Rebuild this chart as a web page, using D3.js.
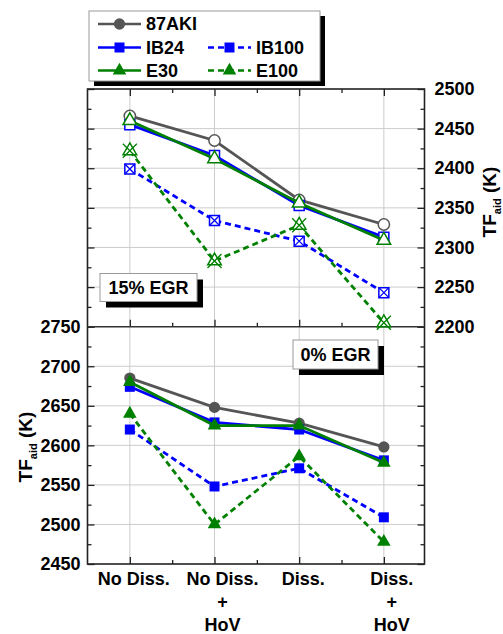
<!DOCTYPE html>
<meta charset="utf-8">
<script src="https://d3js.org/d3.v7.min.js"></script>
<style>
  body { margin: 0; background: #fff; }
  text { font-family: "Liberation Sans", Arial, sans-serif; font-weight: bold; }
</style>
<div id="chart"></div>
<script>

// x categories (multi-line tick labels)
var categories = [["No Diss."], ["No Diss.", "+", "HoV"], ["Diss."], ["Diss.", "+", "HoV"]]
var xPos = [1, 2, 3, 4]

// 15% EGR panel (top, right axis)
var aki87_15 = [2466, 2435, 2360, 2329]
var ib24_15  = [2455, 2416, 2353, 2313]
var e30_15   = [2460, 2412, 2356, 2309]
var ib100_15 = [2399, 2334, 2308, 2243]
var e100_15  = [2422, 2283, 2328, 2205]

// 0% EGR panel (bottom, left axis)
var aki87_0 = [2685, 2648, 2628, 2598]
var ib24_0  = [2674, 2629, 2620, 2581]
var e30_0   = [2680, 2625, 2625, 2578]
var ib100_0 = [2620, 2548, 2571, 2509]
var e100_0  = [2640, 2500, 2586, 2478]

var topTicks = [2200, 2250, 2300, 2350, 2400, 2450, 2500]
var botTicks = [2450, 2500, 2550, 2600, 2650, 2700, 2750]

var width = 503, height = 634
var left = 87.5, right = 424.5
var top1 = 89, mid = 326.7, bot = 564

var GRAY = "#555555", BLUE = "#0000ff", GREEN = "#008000"

var series = [
  {name: "87AKI", color: GRAY,  dash: null,  shape: "circle",   top: aki87_15, bot: aki87_0},
  {name: "IB24",  color: BLUE,  dash: null,  shape: "square",   top: ib24_15,  bot: ib24_0},
  {name: "E30",   color: GREEN, dash: null,  shape: "triangle", top: e30_15,   bot: e30_0},
  {name: "IB100", color: BLUE,  dash: "6,4", shape: "square",   top: ib100_15, bot: ib100_0, cross: true},
  {name: "E100",  color: GREEN, dash: "6,4", shape: "triangle", top: e100_15,  bot: e100_0,  cross: true}
]

var svg = d3.select("#chart").append("svg")
  .attr("width", width)
  .attr("height", height)

var x = d3.scaleLinear().domain([0.5, 4.48]).range([left, right])
var yTop = d3.scaleLinear().domain([2200, 2500]).range([mid, top1])
var yBot = d3.scaleLinear().domain([2450, 2750]).range([bot, mid])

function minors(ticks) {
  var m = []
  for (var i = 0; i < ticks.length - 1; i++) m.push((ticks[i] + ticks[i + 1]) / 2)
  return m
}

// grid lines
function grid(y, ticks, y0, y1) {
  var g = svg.append("g")
  g.selectAll("line.v").data(xPos).enter().append("line")
    .attr("x1", function(d){ return x(d) }).attr("x2", function(d){ return x(d) })
    .attr("y1", y0).attr("y2", y1)
    .attr("stroke", "#cccccc").attr("stroke-width", 1)
  g.selectAll("line.h").data(ticks.slice(1, -1)).enter().append("line")
    .attr("x1", left).attr("x2", right)
    .attr("y1", function(d){ return y(d) }).attr("y2", function(d){ return y(d) })
    .attr("stroke", "#cccccc").attr("stroke-width", 1)
}
grid(yTop, topTicks, top1, mid)
grid(yBot, botTicks, mid, bot)

// axes (inward ticks)
function axis(gen, tx, ty, vals, size, labels, pad) {
  var g = svg.append("g").attr("transform", "translate(" + tx + "," + ty + ")")
    .call(gen.tickValues(vals).tickSize(size).tickPadding(pad || 3)
      .tickFormat(labels ? d3.format("d") : ""))
  g.select(".domain").remove()
  g.selectAll(".tick line").attr("stroke", "#222").attr("stroke-width", 1.3)
  g.selectAll("text").attr("font-size", 18).attr("fill", "#000")
  return g
}
// y axes
axis(d3.axisLeft(yBot), left, 0, botTicks, -7, true, 7)
axis(d3.axisLeft(yBot), left, 0, minors(botTicks), -4, false)
axis(d3.axisRight(yBot), right, 0, botTicks, -7, false)
axis(d3.axisRight(yBot), right, 0, minors(botTicks), -4, false)
axis(d3.axisLeft(yTop), left, 0, topTicks, -7, false)
axis(d3.axisLeft(yTop), left, 0, minors(topTicks), -4, false)
axis(d3.axisRight(yTop), right, 0, topTicks, -7, true, 10)
axis(d3.axisRight(yTop), right, 0, minors(topTicks), -4, false)
// x axes
var xMinor = [1.5, 2.5, 3.5]
axis(d3.axisTop(x), 0, top1, xPos, -7, false)
axis(d3.axisTop(x), 0, top1, xMinor, -4, false)
axis(d3.axisBottom(x), 0, mid, xPos, -7, false)
axis(d3.axisBottom(x), 0, mid, xMinor, -4, false)
axis(d3.axisBottom(x), 0, bot, xPos, -7, false)
axis(d3.axisBottom(x), 0, bot, xMinor, -4, false)

// frames
svg.append("rect").attr("x", left).attr("y", top1).attr("width", right - left).attr("height", bot - top1)
  .attr("fill", "none").attr("stroke", "#222").attr("stroke-width", 1.6)
svg.append("line").attr("x1", left).attr("x2", right).attr("y1", mid).attr("y2", mid)
  .attr("stroke", "#333").attr("stroke-width", 1.6)

// category labels
var xl = svg.append("g").selectAll("text").data(categories).enter().append("text")
  .attr("x", function(d, i){ return x(xPos[i]) + (d.length > 1 ? 8 : 4) })
  .attr("y", 585)
  .attr("text-anchor", "middle")
  .attr("font-size", 18)
xl.selectAll("tspan").data(function(d){ return d }).enter().append("tspan")
  .attr("x", function(){ return d3.select(this.parentNode).attr("x") })
  .attr("dy", function(d, i){ return i ? 23 : 0 })
  .text(function(d){ return d })

// markers
function marker(g, s, cx, cy, filled) {
  var sym = s.shape == "circle" ? d3.symbolCircle : s.shape == "square" ? d3.symbolSquare : d3.symbolTriangle
  var size = s.shape == "circle" ? 100 : s.shape == "square" ? 100 : 80
  var fill = filled ? s.color : "#fff"
  g.append("path")
    .attr("d", d3.symbol().type(sym).size(size))
    .attr("transform", "translate(" + cx + "," + cy + ")")
    .attr("fill", fill)
    .attr("stroke", filled ? "none" : s.color)
    .attr("stroke-width", 1.5)
  if (s.cross && !filled) {
    var r = s.shape == "square" ? 5 : 7
    g.append("path")
      .attr("d", "M" + (cx - r) + "," + (cy - r) + "L" + (cx + r) + "," + (cy + r) +
                 "M" + (cx - r) + "," + (cy + r) + "L" + (cx + r) + "," + (cy - r))
      .attr("stroke", s.color).attr("stroke-width", 1.3).attr("fill", "none")
  }
}

function panel(y, key, filled) {
  series.forEach(function(s) {
    var g = svg.append("g")
    var line = d3.line()
      .x(function(d, i){ return x(xPos[i]) })
      .y(function(d){ return y(d) })
    g.append("path").datum(s[key])
      .attr("d", line)
      .attr("fill", "none")
      .attr("stroke", s.color)
      .attr("stroke-width", 2.8)
      .attr("stroke-dasharray", s.dash)
    s[key].forEach(function(v, i){ marker(g, s, x(xPos[i]), y(v), filled) })
  })
}
panel(yTop, "top", false)
panel(yBot, "bot", true)

// labelled boxes with shadow
function box(bx, by, bw, bh, off, label, fs) {
  svg.append("rect").attr("x", bx + off).attr("y", by + off).attr("width", bw).attr("height", bh).attr("fill", "#000")
  svg.append("rect").attr("x", bx).attr("y", by).attr("width", bw).attr("height", bh)
    .attr("fill", "#fff").attr("stroke", "#999").attr("stroke-width", 1)
  if (label) svg.append("text").attr("x", bx + bw / 2).attr("y", by + bh / 2).attr("dy", "0.36em")
    .attr("text-anchor", "middle").attr("font-size", fs).text(label)
}
box(100, 273.5, 97, 28, 6, "15% EGR", 18)
box(293, 340, 85, 29, 6, "0% EGR", 18)

// legend
box(89, 11, 231, 70, 5)
var legendPos = [[98, 24], [98, 47.5], [98, 70.5], [208, 47.5], [208, 70.5]]
series.forEach(function(s, i) {
  var p = legendPos[i]
  var g = svg.append("g")
  g.append("line").attr("x1", p[0]).attr("x2", p[0] + 43).attr("y1", p[1]).attr("y2", p[1])
    .attr("stroke", s.color).attr("stroke-width", 2.6).attr("stroke-dasharray", s.dash)
  marker(g, s, p[0] + 21.5, p[1], true)
  g.append("text").attr("x", p[0] + 48).attr("y", p[1]).attr("dy", "0.36em")
    .attr("font-size", 18).text(s.name)
})

// axis titles
function ytitle(tx, ty) {
  var t = svg.append("text")
    .attr("transform", "translate(" + tx + "," + ty + ") rotate(-90)")
    .attr("text-anchor", "middle")
    .attr("font-size", 19)
  t.append("tspan").text("TF")
  t.append("tspan").attr("font-size", 11).attr("dy", 5).text("aid")
  t.append("tspan").attr("dy", -5).text(" (K)")
}
ytitle(32, 447)
ytitle(496, 202)

</script>
